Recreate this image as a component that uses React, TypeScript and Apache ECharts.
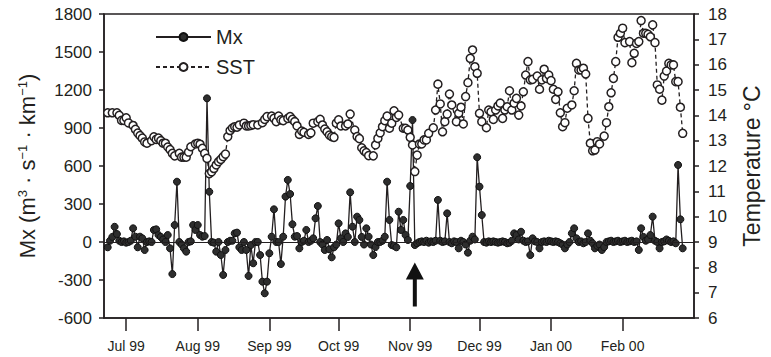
import { useEffect, useRef } from 'react';
import * as echarts from 'echarts';

// x axis: days since 1 Jul 1999
const monthStartDays = [0, 31, 62, 92, 123, 153, 184, 215];
const monthLabels = ['Jul 99', 'Aug 99', 'Sep 99', 'Oct 99', 'Nov 99', 'Dec 99', 'Jan 00', 'Feb 00'];
const xMinDay = -9.6;
const xMaxDay = 245.9;

// Mx, daily values starting at day -8 (22 Jun 1999)
const mxStartDay = -8;
const mxValues = [
  -42, 10, 40, 120, 63, 10, 0, 5, -5, 0,
  10, 108, 42, -42, 42, 29, -63, 0, 5, 0,
  95, 100, 55, 40, 20, 0, 55, -50, -253, 134,
  476, 0, -20, -50, -76, 0, 5, 134, 95, 134,
  55, 42, 47, 1134, 397, 0, -5, -76, 0, -103,
  -260, -63, 0, 10, 10, 68, 74, -42, -63, 0,
  -63, -268, -24, -168, 0, 0, -103, -313, -405, -313,
  -89, 42, 258, 0, 0, -174, 42, 358, 490, 379,
  140, 42, 47, -50, 0, 10, 95, 0, 10, 29,
  187, 284, 0, -20, -63, 16, -58, -121, -42, -20,
  147, 29, 0, 68, 40, 392, 121, 0, 200, 174,
  40, -20, 108, 42, -20, -103, -40, 0, 0, 10,
  42, 476, 174, -24, -30, -42, 239, 95, 174, 55,
  16, 442, 963, -24, -10, 0, 5, 0, 10, -5,
  5, 0, 10, 332, 10, 0, 5, 226, 0, -10,
  5, 0, -50, 10, 0, -20, -84, 10, 42, 20,
  669, 437, 213, 0, -5, 5, 0, 5, 0, -5,
  0, 5, 0, -10, -5, 10, 68, 55, 20, 81,
  10, 0, 5, -103, 29, 5, 0, -50, 0, 5,
  0, 10, 5, 0, 5, 0, -10, -20, -50, -20,
  0, 68, 108, 29, 0, 5, -10, 0, 68, 10,
  -10, -50, -30, -20, -63, -40, 0, 5, 10, 0,
  5, 10, 0, 5, 10, 0, 5, 10, 0, 5,
  -63, 108, 40, 10, 20, 55, 200, 10, 0, -50,
  0, 5, 20, 10, 0, 5, -10, 608, 179, -50,
];

// SST (°C) sample days and values
const sstDays = [
  -8, -6, -4, -3, -2, -1, 0, 1, 3, 4, 5, 6, 7, 8, 9, 11, 12, 13, 14, 15,
  16, 17, 18, 19, 20, 21, 23, 24, 25, 26, 27, 28, 30, 31, 32, 33, 34, 35, 36, 37,
  38, 39, 40, 41, 42, 43, 44, 45, 46, 47, 48, 49, 51, 52, 53, 54, 55, 57, 59, 60,
  61, 63, 64, 65, 66, 67, 68, 70, 71, 72, 73, 74, 75, 76, 77, 79, 80, 81, 83, 84,
  85, 86, 87, 88, 89, 90, 91, 92, 93, 95, 96, 97, 99, 100, 101, 102, 103, 104, 105, 107,
  108, 109, 110, 111, 112, 113, 114, 115, 116, 117, 118, 120, 121, 122, 123, 124, 125, 126, 127, 128,
  129, 130, 131, 133, 134, 135, 136, 137, 138, 139, 140, 141, 143, 144, 145, 146, 147, 148, 149, 150,
  151, 152, 153, 154, 156, 157, 158, 159, 160, 161, 162, 163, 164, 165, 166, 167, 168, 169, 170, 171,
  172, 173, 174, 175, 176, 178, 179, 180, 181, 182, 183, 184, 185, 186, 187, 188, 189, 190, 191, 193,
  194, 195, 196, 197, 198, 199, 200, 201, 202, 203, 204, 205, 207, 208, 209, 210, 211, 212, 213, 214,
  215, 216, 218, 219, 220, 221, 222, 223, 224, 225, 226, 227, 228, 229, 230, 231, 232, 233, 234, 235,
  236, 237, 238, 239, 240, 241,
];
const sstTemps = [
  14.1, 14.1, 14.1, 14.0, 13.8, 13.8, 13.9, 13.7, 13.6, 13.45, 13.3, 13.2, 13.1, 12.95, 12.9, 13.0, 13.15, 13.05, 13.1, 13.0,
  12.9, 12.9, 12.75, 12.65, 12.5, 12.4, 12.5, 12.35, 12.35, 12.35, 12.55, 12.76, 12.87, 12.9, 12.86, 12.7, 12.5, 12.3, 11.7, 11.77,
  11.9, 12.04, 12.17, 12.26, 12.37, 12.47, 13.16, 13.4, 13.5, 13.55, 13.53, 13.62, 13.69, 13.58, 13.58, 13.6, 13.63, 13.62, 13.71, 13.84,
  13.95, 13.97, 13.88, 13.75, 13.97, 13.82, 13.79, 13.88, 13.95, 13.84, 13.75, 13.58, 13.25, 13.38, 13.33, 13.25, 13.31, 13.69, 13.75, 13.84,
  13.62, 13.46, 13.35, 13.22, 13.16, 13.13, 13.69, 13.82, 13.58, 13.58, 13.66, 14.05, 13.42, 13.16, 13.08, 12.72, 12.6, 12.53, 12.41, 12.4,
  12.83, 13.09, 13.31, 13.55, 13.79, 13.97, 13.49, 13.69, 14.18, 13.92, 14.01, 13.49, 13.49, 13.42, 13.13, 12.83, 11.78, 12.43, 12.87, 12.87,
  13.03, 13.03, 13.29, 13.51, 14.21, 15.23, 14.45, 13.35, 13.75, 14.05, 14.84, 14.41, 13.75, 14.08, 14.32, 13.66, 14.74, 15.29, 16.25, 16.58,
  15.92, 15.66, 14.08, 13.75, 13.51, 14.21, 14.14, 13.84, 14.21, 14.37, 14.48, 13.88, 14.21, 14.34, 14.97, 14.21, 14.48, 14.67, 14.01, 14.37,
  14.93, 15.59, 16.12, 15.4, 15.42, 15.55, 15.03, 15.4, 15.82, 15.46, 15.59, 15.37, 15.03, 14.63, 14.93, 14.1, 13.55, 13.71, 14.28, 14.41,
  14.97, 16.05, 15.79, 15.79, 15.86, 15.63, 13.88, 12.9, 12.6, 12.63, 12.96, 12.87, 13.18, 13.71, 14.34, 14.89, 15.46, 16.12, 17.08, 17.24,
  17.44, 16.87, 16.91, 16.08, 16.45, 16.84, 16.91, 17.74, 17.24, 17.24, 17.2, 17.1, 17.57, 16.87, 15.2, 15.03, 14.6, 15.55, 15.75, 16.05,
  15.99, 15.99, 15.33, 15.33, 14.32, 13.29,
];

// Arrow annotation (day, Mx level of arrow centre)
const arrowDay = 125;
const arrowMx = -335;

export default function App() {
  const ref = useRef<HTMLDivElement>(null);
  useEffect(() => {
    if (!ref.current) return;
    const chart = echarts.init(ref.current, null, { renderer: 'svg' });
    const mxData = mxValues.map((v, i) => [mxStartDay + i, v]);
    const sstData = sstDays.map((d, i) => [d, sstTemps[i]]);
    const ink = '#231f20';
    const font = '"Liberation Sans", Arial, Helvetica, sans-serif';
    const axisLineStyle = { color: ink, width: 1.5 };
    chart.setOption({
      animation: false,
      backgroundColor: '#ffffff',
      textStyle: { fontFamily: font, color: ink },
      grid: {
        left: 104, right: 64, top: 14, bottom: 39,
        show: true, borderColor: ink, borderWidth: 1.5, backgroundColor: 'transparent',
      },
      legend: {
        data: ['Mx', 'SST'],
        orient: 'vertical',
        left: 150, top: 22,
        itemWidth: 55, itemHeight: 10, itemGap: 10,
        selectedMode: false,
        textStyle: { fontSize: 20, color: ink, fontFamily: font, lineHeight: 20 },
      },
      xAxis: {
        type: 'value', min: xMinDay, max: xMaxDay,
        axisLine: { show: true, onZero: false, lineStyle: axisLineStyle },
        axisTick: { show: true, inside: false, length: 13, customValues: monthStartDays, lineStyle: axisLineStyle },
        axisLabel: {
          customValues: monthStartDays,
          formatter: (v: number) => {
            const k = monthStartDays.indexOf(Math.round(v));
            return k >= 0 ? monthLabels[k] : '';
          },
          fontSize: 14, color: ink, fontFamily: font, margin: 21,
        },
        splitLine: { show: false },
      },
      yAxis: [
        {
          type: 'value', min: -600, max: 1800, interval: 300, position: 'left',
          name: 'Mx (m{sup|3} · s{sup|−1} · km{sup|−1})',
          nameLocation: 'middle', nameRotate: 90, nameGap: 66,
          nameTextStyle: {
            fontSize: 22, color: ink, fontFamily: font,
            rich: { sup: { fontSize: 13, color: ink, fontFamily: font, verticalAlign: 'top', lineHeight: 13 } },
          },
          axisLine: { show: true, onZero: false, lineStyle: axisLineStyle },
          axisTick: { show: true, inside: false, length: 5, lineStyle: axisLineStyle },
          axisLabel: {
            fontSize: 17, color: ink, fontFamily: font, margin: 12,
            formatter: (v: number) => String(v),
          },
          splitLine: { show: false },
        },
        {
          type: 'value', min: 6, max: 18, interval: 1, position: 'right',
          name: 'Temperature °C',
          nameLocation: 'middle', nameRotate: 90, nameGap: 46,
          nameTextStyle: { fontSize: 23, color: ink, fontFamily: font },
          axisLine: { show: true, onZero: false, lineStyle: axisLineStyle },
          axisTick: { show: true, inside: false, length: 5, lineStyle: axisLineStyle },
          axisLabel: {
            fontSize: 17, color: ink, fontFamily: font, margin: 14,
            formatter: (v: number) => String(v),
          },
          splitLine: { show: false },
        },
      ],
      series: [
        {
          name: 'Mx', type: 'line', yAxisIndex: 0, data: mxData,
          symbol: 'circle', symbolSize: 7, showSymbol: true,
          lineStyle: { color: ink, width: 1.3 },
          itemStyle: { color: '#2e2e2e', borderColor: '#111', borderWidth: 1 },
          z: 2,
          markLine: {
            silent: true, symbol: ['none', 'none'],
            label: { show: false },
            lineStyle: { color: ink, width: 1, type: 'solid' },
            data: [{ yAxis: 0 }],
          },
          markPoint: {
            silent: true,
            data: [{
              coord: [arrowDay, arrowMx],
              symbol: 'path://M9 0 L18 17 L11 17 L11 44 L7 44 L7 17 L0 17 Z',
              symbolSize: [18, 44],
              itemStyle: { color: '#111' },
              label: { show: false },
            }],
          },
        },
        {
          name: 'SST', type: 'line', yAxisIndex: 1, data: sstData,
          symbol: 'circle', symbolSize: 8, showSymbol: true,
          lineStyle: { color: ink, width: 1.3, type: [4, 3] },
          itemStyle: { color: '#ffffff', borderColor: ink, borderWidth: 1.5 },
          z: 3,
        },
      ],
    });
    return () => chart.dispose();
  }, []);
  return (
    <div
      ref={ref}
      style={{ position: 'fixed', left: 0, top: 0, width: 771, height: 357, background: '#fff' }}
    />
  );
}
